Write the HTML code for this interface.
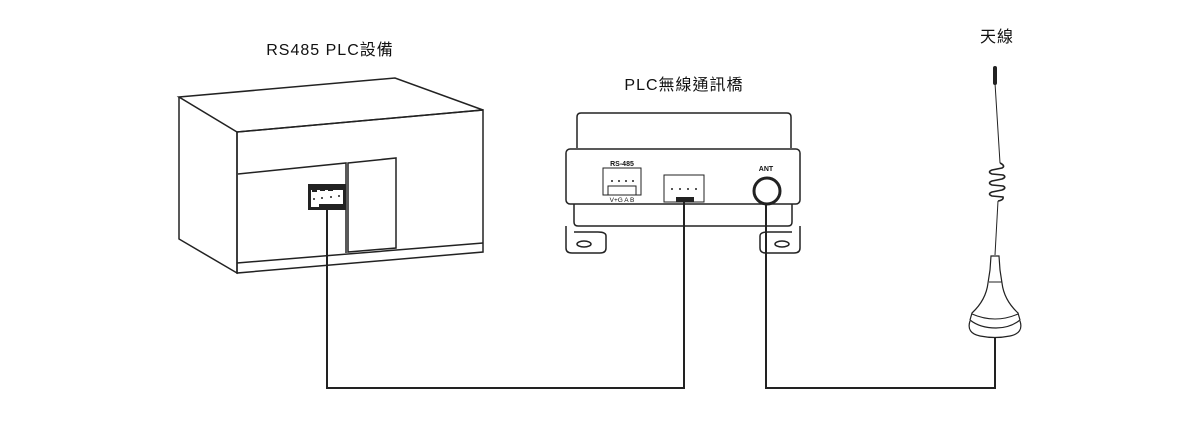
<!DOCTYPE html>
<html><head><meta charset="utf-8"><style>body{margin:0;background:#fff}svg{display:block}</style></head><body>
<svg width="1200" height="442" viewBox="0 0 1200 442" xmlns="http://www.w3.org/2000/svg" fill="none" stroke="#222" stroke-width="1.5" font-family="'Liberation Sans','Noto Sans CJK TC',sans-serif">
<text x="330" y="55" font-size="16" fill="#111" stroke="none" text-anchor="middle" letter-spacing="1">RS485 PLC設備</text>
<text x="684" y="90" font-size="16" fill="#111" stroke="none" text-anchor="middle" letter-spacing="1">PLC無線通訊橋</text>
<text x="997" y="42" font-size="16" fill="#111" stroke="none" text-anchor="middle" letter-spacing="1">天線</text>
<!-- PLC box -->
<polygon points="179,97 395,78 483,110 237,132"/>
<polyline points="179,97 179,239 237,273 237,132"/>
<polygon points="237,132 483,110 483,252 237,273"/>
<line x1="237" y1="263" x2="483" y2="243"/>
<polyline points="238,174 346,163 346,253"/>
<polygon points="348,163 396,158 396,248 348,252"/>
<rect x="308" y="184" width="38" height="26" fill="#222" stroke="none"/>
<rect x="311" y="190" width="32" height="14" fill="#fff" stroke="none"/>
<g fill="#222" stroke="none"><rect x="312" y="187" width="5" height="5"/><rect x="320" y="186" width="5" height="5"/><rect x="328" y="186" width="5" height="5"/><rect x="336" y="185" width="5" height="5"/></g>
<rect x="311" y="204" width="8" height="3" fill="#fff" stroke="none"/>
<g fill="#222" stroke="none"><circle cx="314" cy="199" r="1"/><circle cx="322" cy="198" r="1"/><circle cx="331" cy="197" r="1"/><circle cx="339" cy="196" r="1"/></g>
<!-- wires -->
<polyline points="327,210 327,388 684,388 684,200" stroke-width="2"/>
<polyline points="766,205 766,388 995,388 995,338" stroke-width="2"/>
<!-- bridge -->
<path d="M577,148 V117 Q577,113 581,113 H787 Q791,113 791,117 V148"/>
<rect x="566" y="149" width="234" height="55" rx="4"/>
<path d="M574,204 V222 Q574,226 578,226 H788 Q792,226 792,222 V204"/>
<path d="M566,226 V248 Q566,253 572,253 H600 Q606,253 606,248 V236 Q606,232 598,232 H574"/>
<path d="M800,226 V248 Q800,253 794,253 H766 Q760,253 760,248 V236 Q760,232 768,232 H792"/>
<ellipse cx="584" cy="244" rx="7" ry="3"/>
<ellipse cx="782" cy="244" rx="7" ry="3"/>
<text x="622" y="166" font-size="7" font-weight="bold" fill="#111" stroke="none" text-anchor="middle">RS-485</text>
<rect x="603" y="168" width="38" height="27" stroke-width="1"/>
<polyline points="608,195 608,186 636,186 636,195" stroke-width="1"/>
<text x="622" y="202" font-size="6.5" fill="#111" stroke="none" text-anchor="middle">V+G A B</text>
<rect x="664" y="175" width="40" height="27" stroke-width="1"/>
<rect x="676" y="197" width="18" height="5" fill="#222" stroke="none"/>
<g fill="#222" stroke="none"><circle cx="612" cy="181" r="1"/><circle cx="619" cy="181" r="1"/><circle cx="626" cy="181" r="1"/><circle cx="633" cy="181" r="1"/><circle cx="672" cy="189" r="1"/><circle cx="680" cy="189" r="1"/><circle cx="688" cy="189" r="1"/><circle cx="696" cy="189" r="1"/></g>
<text x="766" y="171" font-size="7" font-weight="bold" fill="#111" stroke="none" text-anchor="middle">ANT</text>
<circle cx="767" cy="191" r="13" stroke-width="3"/>
<!-- antenna -->
<line x1="995" y1="68" x2="995" y2="83" stroke-width="4" stroke-linecap="round"/>
<line x1="995" y1="83" x2="1000" y2="163" stroke-width="1"/>
<path d="M1000,163 Q1006,166 1002,168 L992,170 Q987,172 992,174 L1003,175 Q1007,177 1002,179 L992,181 Q987,183 992,185 L1003,186 Q1007,188 1002,190 L992,192 Q987,194 992,196 L1003,197 Q1004,200 998,201" stroke-width="1.6"/>
<line x1="998" y1="201" x2="995" y2="255" stroke-width="1"/>
<path d="M991,256 H999 L1000,270 L1002,283 Q1004,300 1018,313 L1020,320 Q1010,328 996,328 Q980,328 970,320 L972,313 Q986,300 988,283 L990,270 Z" stroke-width="1.2"/>
<line x1="989" y1="282" x2="1002" y2="282" stroke-width="1"/>
<path d="M972,314 Q995,324 1018,314" stroke-width="1"/>
<path d="M970,321 Q966,333 980,336 Q995,339 1010,336 Q1024,333 1020,321" stroke-width="1.2"/>
</svg>
</body></html>
